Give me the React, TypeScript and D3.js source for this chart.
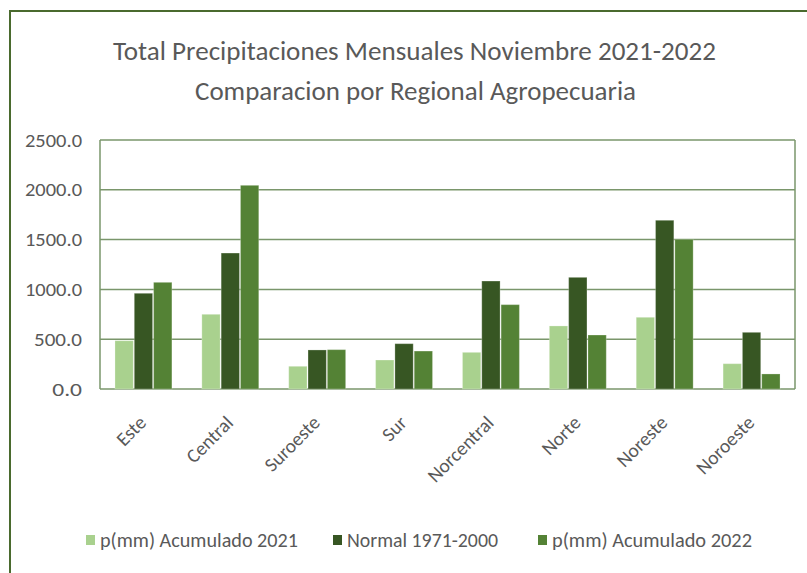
import React from "react";
import * as d3 from "d3";

const categories = ["Este", "Central", "Suroeste", "Sur", "Norcentral", "Norte", "Noreste", "Noroeste"];
const acumulado2021 = [485, 750, 228, 291, 368, 633, 720, 254];
const normal19712000 = [961, 1365, 392, 455, 1084, 1121, 1694, 569];
const acumulado2022 = [1071, 2045, 395, 381, 847, 542, 1503, 151];
const seriesNames = ["p(mm) Acumulado 2021", "Normal 1971-2000", "p(mm) Acumulado 2022"];
const seriesColors = ["#a9d18e", "#375623", "#548235"];
const yTicks = [0, 500, 1000, 1500, 2000, 2500];
const titleLines = ["Total Precipitaciones Mensuales Noviembre 2021-2022", "Comparacion por Regional Agropecuaria"];

const W = 807;
const H = 573;
const FONT = "Carlito, Calibri, 'Liberation Sans Narrow', 'Open Sans', sans-serif";
const TXT = "#595959";
const GRID = "#7a966b";

export default function App() {
  const series = [acumulado2021, normal19712000, acumulado2022];
  const x = d3.scaleBand<string>().domain(categories).range([100, 795]).paddingInner(0.3333).paddingOuter(0.1667);
  const xs = d3.scaleBand<number>().domain([0, 1, 2]).range([0, x.bandwidth()]).padding(0);
  const y = d3.scaleLinear().domain([0, 2500]).range([389, 140]);

  const legendX = [86, 333, 538];
  const legendTextLen = [198, 151, 200];

  return (
    <svg width={W} height={H} style={{ position: "absolute", left: 0, top: 0, background: "#fff" }} fontFamily={FONT}>
      <rect x={0} y={0} width={W} height={H} fill="#fff" />
      {/* outer border */}
      <line x1={10} y1={11} x2={W} y2={11} stroke="#4a6a2e" strokeWidth={2} />
      <line x1={10} y1={10} x2={10} y2={H} stroke="#4a6a2e" strokeWidth={2} />

      {/* title */}
      <text x={414.5} y={60} textAnchor="middle" fontSize={26} fill={TXT} textLength={603} lengthAdjust="spacingAndGlyphs">
        {titleLines[0]}
      </text>
      <text x={415.5} y={100} textAnchor="middle" fontSize={26} fill={TXT} textLength={441} lengthAdjust="spacingAndGlyphs">
        {titleLines[1]}
      </text>

      {/* gridlines */}
      {yTicks.map((t) => (
        <g key={t}>
          <line x1={100} x2={795} y1={y(t)} y2={y(t)} stroke={GRID} strokeWidth={1.5} />
          <text x={82} y={y(t) + 6.5} textAnchor="end" fontSize={19} fill={TXT}
            textLength={t >= 1000 ? 57 : 48 * (t === 0 ? 0.62 : 1)} lengthAdjust="spacingAndGlyphs">
            {d3.format(".1f")(t)}
          </text>
        </g>
      ))}
      <line x1={100} x2={100} y1={140} y2={389} stroke={GRID} strokeWidth={1.5} />
      <line x1={795} x2={795} y1={140} y2={389} stroke={GRID} strokeWidth={1.5} />

      {/* bars */}
      {categories.map((c, i) => (
        <g key={c} transform={`translate(${x(c)},0)`}>
          {series.map((s, k) => (
            <rect key={k} x={xs(k)! + 0.5} width={xs.bandwidth() - 1} y={y(s[i])} height={y(0) - y(s[i])}
              fill={seriesColors[k]} stroke="#ffffff" strokeOpacity={0.25} strokeWidth={1} />
          ))}
        </g>
      ))}

      {/* x labels */}
      {categories.map((c) => (
        <text key={c} transform={`translate(${x(c)! + x.bandwidth() / 2 + 4},424) rotate(-45)`}
          textAnchor="end" fontSize={19.5} fill={TXT}>
          {c}
        </text>
      ))}

      {/* legend */}
      {seriesNames.map((n, k) => (
        <g key={n}>
          <rect x={legendX[k]} y={535} width={9} height={10} fill={seriesColors[k]} />
          <text x={legendX[k] + 14} y={547} fontSize={20} fill={TXT} textLength={legendTextLen[k]} lengthAdjust="spacingAndGlyphs">
            {n}
          </text>
        </g>
      ))}
    </svg>
  );
}
